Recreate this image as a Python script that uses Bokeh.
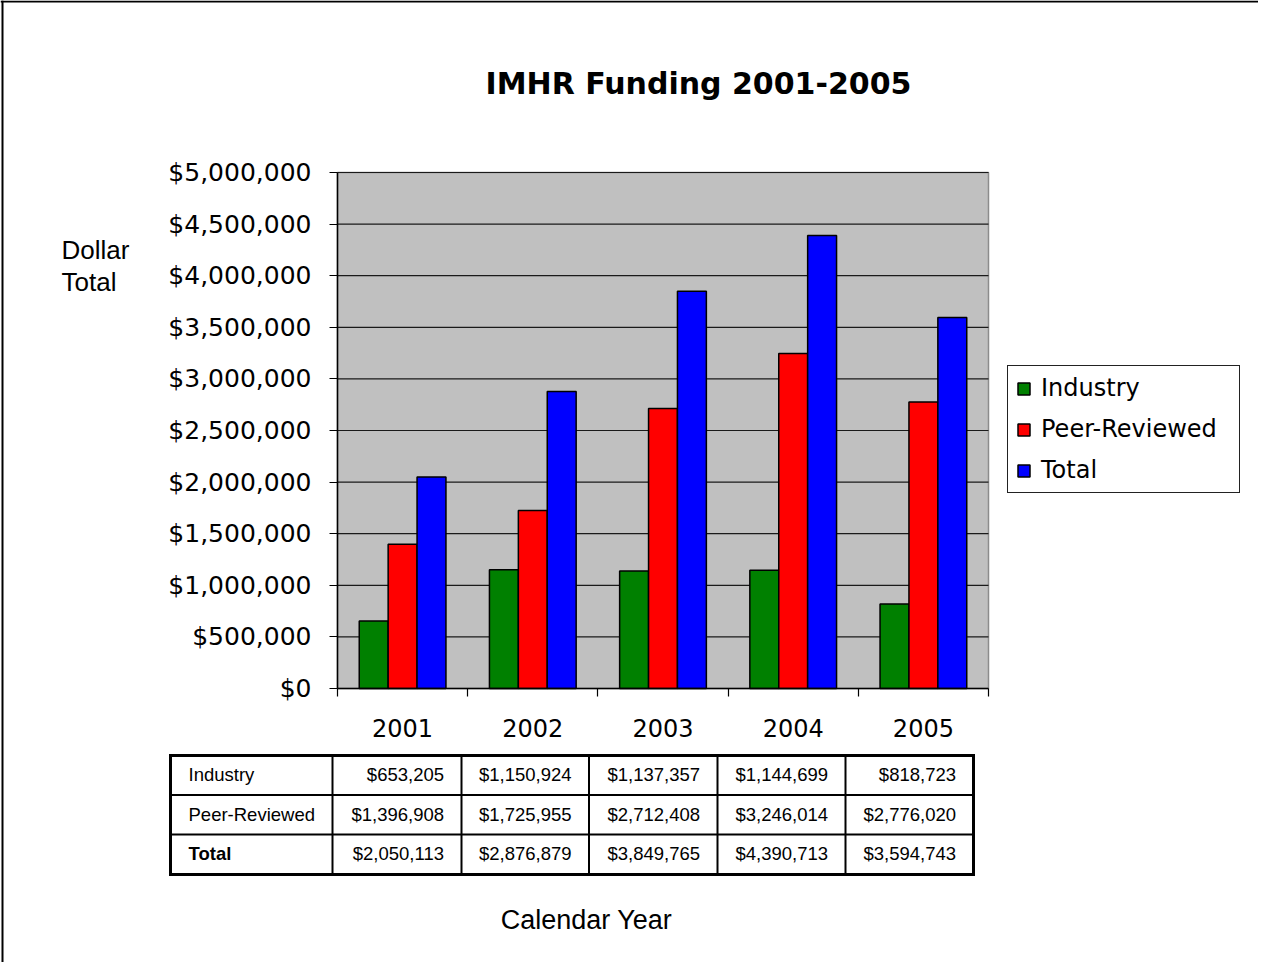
from bokeh.plotting import figure
from bokeh.models import (Label, Legend, LegendItem, FixedTicker, Range1d, LinearAxis)
from bokeh.embed import file_html
from bokeh.resources import INLINE

# ---------------- data ----------------
years = ["2001", "2002", "2003", "2004", "2005"]
industry = [653205, 1150924, 1137357, 1144699, 818723]
peer_reviewed = [1396908, 1725955, 2712408, 3246014, 2776020]
total = [2050113, 2876879, 3849765, 4390713, 3594743]
series_names = ["Industry", "Peer-Reviewed", "Total"]
y_ticks = [0, 500000, 1000000, 1500000, 2000000, 2500000,
           3000000, 3500000, 4000000, 4500000, 5000000]
title_text = "IMHR Funding 2001-2005"

colors = ["#008000", "#FF0000", "#0000FF"]
series = [industry, peer_reviewed, total]

# ---------------- layout (canvas pixels) ----------------
W, H = 1258, 962
CL, CT, CR, CB = 337, 172, 988, 688      # chart area
n = len(years)
ymax = y_ticks[-1]
ppu_x = (CR - CL) / n
ppu_y = (CB - CT) / ymax

x_range = Range1d(-CL / ppu_x, (W - CL) / ppu_x)
y_range = Range1d(-(H - CB) / ppu_y, ymax + CT / ppu_y)

p = figure(width=W, height=H, output_backend="svg", toolbar_location=None,
           x_range=x_range, y_range=y_range, x_axis_type=None, y_axis_type=None,
           min_border=0, background_fill_color="white", border_fill_color="white")
p.outline_line_color = None
p.extra_x_ranges = {"px": Range1d(0, W)}
p.extra_y_ranges = {"px": Range1d(H, 0)}

# chart background, grid lines and frame border
p.quad(left=0, right=n, bottom=0, top=ymax, fill_color="#C0C0C0",
       line_color="#8C8C8C", line_width=1.5)
p.segment(x0=[0] * (len(y_ticks) - 1), x1=[n] * (len(y_ticks) - 1),
          y0=y_ticks[1:], y1=y_ticks[1:], line_color="#1A1A1A", line_width=1.2)

bw = 0.222
offsets = [-bw, 0.0, bw]
renderers = []
for vals, off, col in zip(series, offsets, colors):
    xs = [i + 0.5 + off for i in range(n)]
    r = p.vbar(x=xs, top=vals, bottom=0, width=bw, fill_color=col,
               line_color="black", line_width=1.5)
    renderers.append(r)

# y axis
yax = LinearAxis(fixed_location=0, bounds=(0, ymax))
yax.ticker = FixedTicker(ticks=y_ticks, minor_ticks=[])
yax.major_label_overrides = {v: "${:,}".format(v) for v in y_ticks}
yax.major_label_text_font = "DejaVu Sans"
yax.major_label_text_font_size = "25px"
yax.major_label_text_color = "black"
yax.major_tick_out = 8
yax.major_tick_in = 0
yax.major_label_standoff = 18
yax.axis_line_color = "black"
yax.axis_line_width = 1.5
yax.major_tick_line_width = 1.2
p.add_layout(yax, "left")

# x axis: labels at centres, ticks at group boundaries
centres = [i + 0.5 for i in range(n)]
xax = LinearAxis(fixed_location=0, bounds=(0, n))
xax.ticker = FixedTicker(ticks=centres, minor_ticks=list(range(n + 1)))
xax.major_label_overrides = {c: y for c, y in zip(centres, years)}
xax.major_tick_line_color = None
xax.minor_tick_out = 8
xax.minor_tick_in = 0
xax.minor_tick_line_color = "black"
xax.minor_tick_line_width = 1.2
xax.major_label_text_font = "DejaVu Sans"
xax.major_label_text_font_size = "24px"
xax.major_label_text_color = "black"
xax.major_label_standoff = 22
xax.axis_line_color = "black"
xax.axis_line_width = 1.5
p.add_layout(xax, "below")

# legend (location in pixels from bottom-left of the frame)
items = [LegendItem(label=s, renderers=[r]) for s, r in zip(series_names, renderers)]
legend = Legend(items=items, location=(1007, H - 493),
                label_text_font="DejaVu Sans", label_text_font_size="24px",
                label_text_color="black",
                glyph_width=15, glyph_height=15, label_standoff=10,
                spacing=13, padding=8, margin=0, label_width=190,
                border_line_color="#222222", border_line_width=1, border_line_alpha=1,
                background_fill_color="white", background_fill_alpha=1)
p.add_layout(legend, "center")

# ---------------- texts and table in pixel coordinates ----------------
def lab(text, x, baseline_y, fs, align="left", font="Liberation Sans", bold=False):
    # shift to compensate Bokeh's text placement so that the glyph baseline lands on baseline_y
    p.add_layout(Label(x=x, y=baseline_y - 0.39 * fs, x_range_name="px", y_range_name="px",
                       text=text, text_font=font, text_font_size="%.1fpx" % fs,
                       text_align=align, text_baseline="alphabetic",
                       text_font_style="bold" if bold else "normal",
                       text_color="black"))

def rect(l, r, t, b):
    p.quad(left=l, right=r, top=t, bottom=b, x_range_name="px", y_range_name="px",
           fill_color="black", line_color=None)

# page border (left & top)
rect(1, 3, 0, H)
rect(0, W, 0, 2)

lab(title_text, 698, 95, 30, align="center", font="DejaVu Sans", bold=True)
lab("Dollar", 61, 259.5, 26)
lab("Total", 61, 292, 26)
lab("Calendar Year", 586, 930, 27, align="center")

col_edges = [170, 332, 461, 588.5, 717, 845, 973]
row_edges = [755, 794.5, 834, 874]
for ri, (name, vals) in enumerate(zip(series_names, series)):
    yb = (row_edges[ri] + row_edges[ri + 1]) / 2 + 6.5
    lab(name, col_edges[0] + 18, yb, 18.5, bold=(name == "Total"))
    for ci, v in enumerate(vals):
        lab("${:,}".format(v), col_edges[ci + 2] - 17.5, yb, 18.5, align="right")
for x in col_edges:
    w = 1.5 if x in (col_edges[0], col_edges[-1]) else 1.0
    rect(x - w, x + w, row_edges[0] - 1.5, row_edges[-1] + 1.5)
for y in row_edges:
    w = 1.5 if y in (row_edges[0], row_edges[-1]) else 1.0
    rect(col_edges[0] - 1.5, col_edges[-1] + 1.5, y - w, y + w)

open("out.html", "w").write(file_html(p, INLINE))
